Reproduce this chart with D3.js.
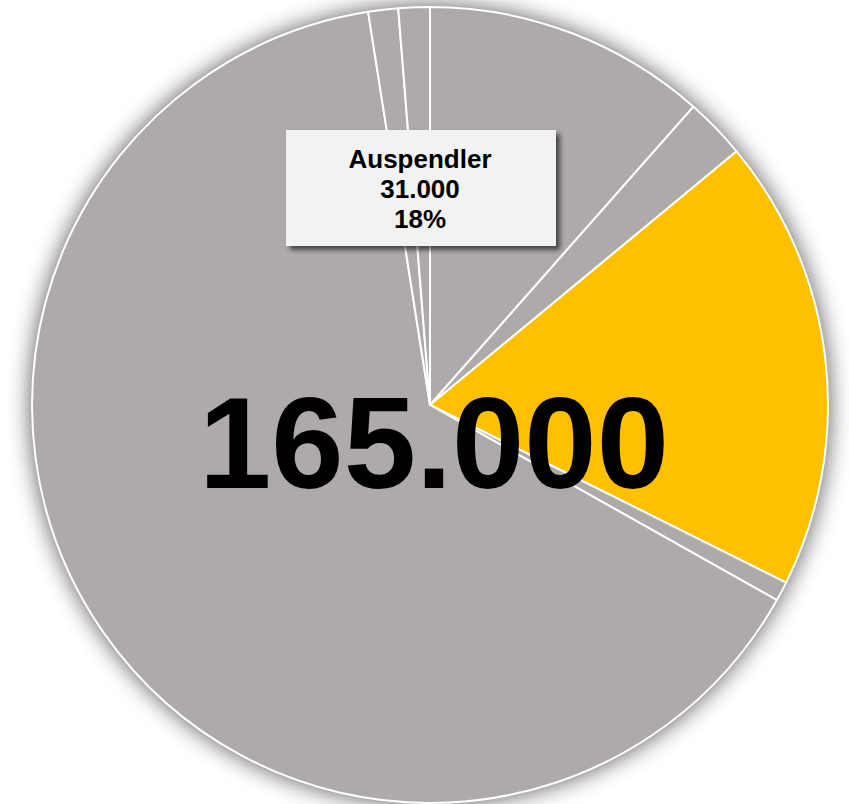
<!DOCTYPE html>
<html><head><meta charset="utf-8">
<script src="https://cdn.jsdelivr.net/npm/d3@7"></script>
<style>html,body{margin:0;padding:0;background:#fff;}svg{display:block;}</style>
</head><body>
<script>
// Slices clockwise from 12 o'clock (values in persons)
const categories = ["A", "B", "Auspendler", "D", "E", "F", "G"];
const values = [19000, 4100, 30300, 1300, 106200, 2000, 2100];
const highlight = "Auspendler";
const totalLabel = "165.000";
const calloutLines = ["Auspendler", "31.000", "18%"];

const W = 849, H = 804;
const cx = 430, cy = 405, R = 398;
const svg = d3.select("body").append("svg").attr("width", W).attr("height", H);
const defs = svg.append("defs");
const f1 = defs.append("filter").attr("id","glow").attr("x","-20%").attr("y","-20%").attr("width","140%").attr("height","140%");
f1.append("feGaussianBlur").attr("in","SourceAlpha").attr("stdDeviation",12).attr("result","b");
f1.append("feComponentTransfer").attr("in","b").attr("result","c").append("feFuncA").attr("type","linear").attr("slope",0.7);
const m1 = f1.append("feMerge"); m1.append("feMergeNode").attr("in","c"); m1.append("feMergeNode").attr("in","SourceGraphic");
const f2 = defs.append("filter").attr("id","boxsh").attr("x","-20%").attr("y","-20%").attr("width","140%").attr("height","150%");
f2.append("feGaussianBlur").attr("in","SourceAlpha").attr("stdDeviation",2.5).attr("result","b");
f2.append("feOffset").attr("in","b").attr("dx",4).attr("dy",4).attr("result","o");
f2.append("feComponentTransfer").attr("in","o").attr("result","c").append("feFuncA").attr("type","linear").attr("slope",0.6);
const m2 = f2.append("feMerge"); m2.append("feMergeNode").attr("in","c"); m2.append("feMergeNode").attr("in","SourceGraphic");

const data = categories.map((c,i)=>({cat:c, value:values[i]}));
const pie = d3.pie().value(d=>d.value).sort(null);
const arc = d3.arc().innerRadius(0).outerRadius(R);
const g = svg.append("g").attr("transform",`translate(${cx},${cy})`);
g.append("circle").attr("r",R).attr("fill","#aeaaa9").attr("filter","url(#glow)");
g.selectAll("path").data(pie(data)).join("path")
  .attr("d",arc)
  .attr("fill",d=>d.data.cat===highlight?"#ffc000":"#aeaaa9")
  .attr("stroke","#fff").attr("stroke-width",2).attr("stroke-linejoin","round");

svg.append("text").attr("x",434).attr("y",488).attr("text-anchor","middle")
  .attr("font-family","Liberation Sans, Arial, sans-serif").attr("font-weight","bold")
  .attr("font-size",130).attr("fill","#000").text(totalLabel);

const bx = 286, by = 130, bw = 270, bh = 116;
svg.append("rect").attr("x",bx).attr("y",by).attr("width",bw).attr("height",bh)
  .attr("fill","#f2f2f2").attr("filter","url(#boxsh)");
svg.append("g").selectAll("text").data(calloutLines).join("text")
  .attr("x",bx+bw/2-1).attr("y",(d,i)=>168+i*30).attr("text-anchor","middle")
  .attr("font-family","Liberation Sans, Arial, sans-serif").attr("font-weight","bold")
  .attr("font-size",26).attr("fill","#000").text(d=>d);
</script>
</body></html>
